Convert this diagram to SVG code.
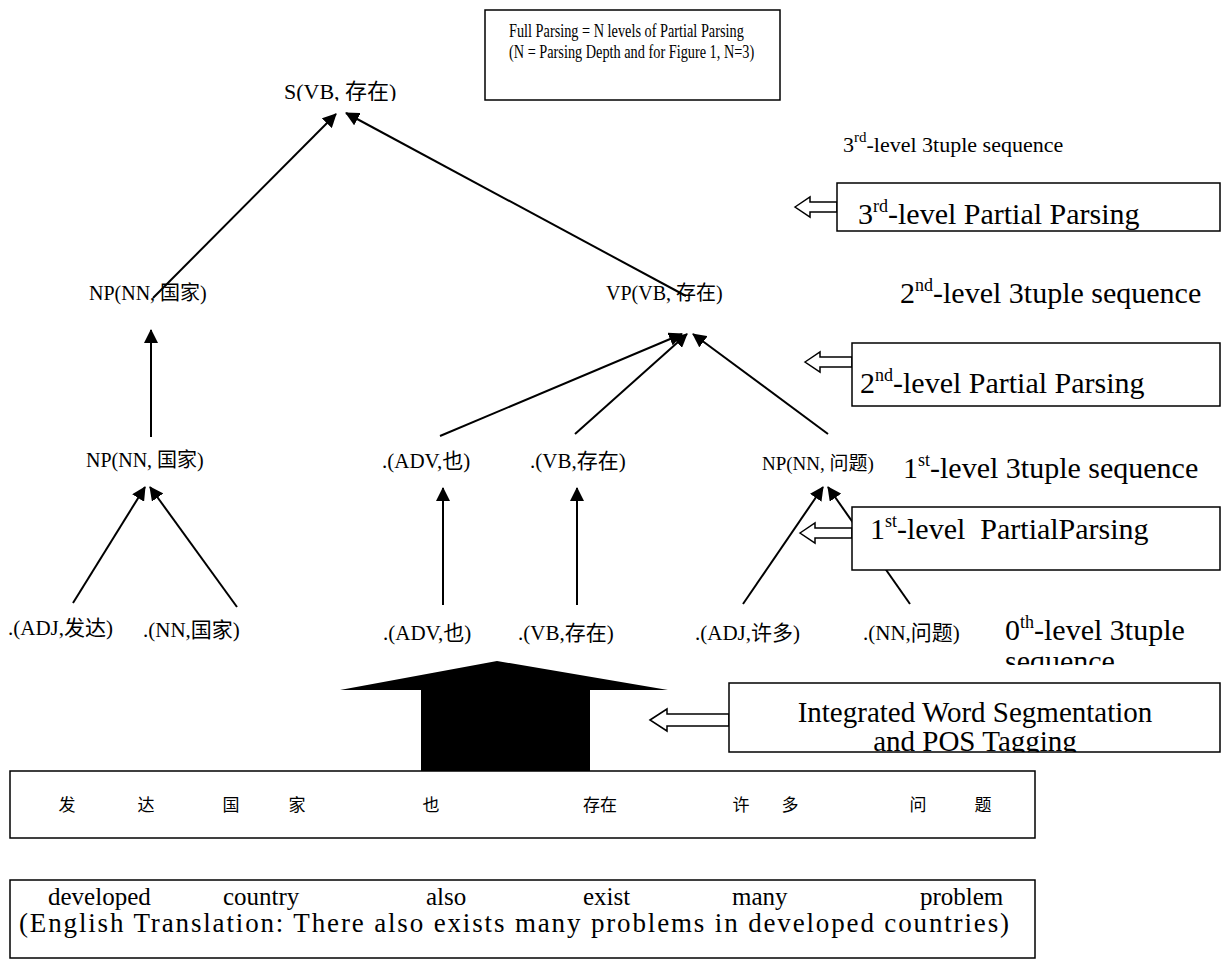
<svg xmlns="http://www.w3.org/2000/svg" width="1222" height="972" viewBox="0 0 1222 972">
<style>
.t{font-family:"Liberation Serif","Noto Sans CJK SC",serif;fill:#000}
.lbl{font-size:20px}
.l21{font-size:21px}
.big{font-size:30px}
.box{fill:#fff;stroke:#000;stroke-width:1.5}
.conn{stroke:#000;stroke-width:2;fill:none;marker-end:url(#ah)}
.hol{fill:#fff;stroke:#000;stroke-width:1.5}
.sup{font-size:18px}
</style>
<defs>
<marker id="ah" markerUnits="userSpaceOnUse" markerWidth="14" markerHeight="14" viewBox="0 0 14 14" refX="13" refY="7" orient="auto">
<path d="M0,0 L14,7 L0,14 z" fill="#000"/>
</marker>
<clipPath id="cs"><rect x="270" y="60" width="150" height="41"/></clipPath>
<clipPath id="c3"><rect x="837" y="183" width="383" height="48"/></clipPath>
<clipPath id="ciw"><rect x="729" y="683" width="491" height="69"/></clipPath>
<clipPath id="c0b"><rect x="990" y="600" width="232" height="65"/></clipPath>
</defs>

<g id="connectors">
<line class="conn" x1="153" y1="298" x2="336" y2="114"/>
<line class="conn" x1="686" y1="296" x2="346" y2="113"/>
<line class="conn" x1="151" y1="437" x2="151" y2="330"/>
<line class="conn" x1="440" y1="436" x2="682" y2="334"/>
<line class="conn" x1="575" y1="434" x2="687" y2="334"/>
<line class="conn" x1="828" y1="434" x2="693" y2="334"/>
<line class="conn" x1="73" y1="603" x2="145" y2="487"/>
<line class="conn" x1="237" y1="607" x2="150" y2="487"/>
<line class="conn" x1="443" y1="605" x2="443" y2="488"/>
<line class="conn" x1="577" y1="605" x2="577" y2="488"/>
<line class="conn" x1="743" y1="604" x2="823" y2="487"/>
<line class="conn" x1="910" y1="604" x2="828" y2="487"/>
<polygon class="hol" points="795,207 810,197 810,202 837,202 837,212 810,212 810,217"/>
<polygon class="hol" points="805,362 820,352 820,357 852,357 852,367 820,367 820,372"/>
<polygon class="hol" points="800,533 815,523 815,528 852,528 852,538 815,538 815,543"/>
<polygon class="hol" points="650,720 667,709 667,714 729,714 729,726 667,726 667,731"/>
<polygon id="bigarrow" points="497,661 668,690 590,690 590,771 421,771 421,690 340,690" fill="#000"/>
</g>

<g id="note">
<rect class="box" x="485" y="10" width="295" height="90"/>
<text class="t" style="font-size:14.3px" transform="translate(509,37) scale(1,1.3)">Full Parsing = N levels of Partial Parsing</text>
<text class="t" style="font-size:14.3px" transform="translate(509,58) scale(1,1.3)">(N = Parsing Depth and for Figure 1, N=3)</text>
</g>

<g id="s" clip-path="url(#cs)"><text class="t" style="font-size:22px" x="284" y="99">S(VB, 存在)</text></g>
<g id="np2"><text class="t lbl" x="89" y="300">NP(NN, 国家)</text></g>
<g id="vp2"><text class="t lbl" x="606" y="300">VP(VB, 存在)</text></g>
<g id="np1"><text class="t lbl" x="86" y="467">NP(NN, 国家)</text></g>
<g id="adv1"><text class="t l21" x="382" y="468">.(ADV,也)</text></g>
<g id="vb1"><text class="t l21" x="530" y="468">.(VB,存在)</text></g>
<g id="np1b"><text class="t" style="font-size:19px" x="762" y="470">NP(NN, 问题)</text></g>

<g id="w0a"><text class="t l21" x="8" y="635">.(ADJ,发达)</text></g>
<g id="w0b"><text class="t l21" x="143" y="637">.(NN,国家)</text></g>
<g id="w0c"><text class="t l21" x="383" y="640">.(ADV,也)</text></g>
<g id="w0d"><text class="t l21" x="518" y="640">.(VB,存在)</text></g>
<g id="w0e"><text class="t l21" x="695" y="640">.(ADJ,许多)</text></g>
<g id="w0f"><text class="t l21" x="863" y="640">.(NN,问题)</text></g>

<g id="seq3"><text class="t" style="font-size:22px" x="843" y="152">3<tspan dy="-10" style="font-size:15px">rd</tspan><tspan dy="10">-level 3tuple sequence</tspan></text></g>
<g id="seq2"><text class="t big" x="900" y="303">2<tspan class="sup" dy="-12">nd</tspan><tspan dy="12">-level 3tuple sequence</tspan></text></g>
<g id="seq1"><text class="t big" x="903" y="478">1<tspan class="sup" dy="-12">st</tspan><tspan dy="12">-level 3tuple sequence</tspan></text></g>
<g id="seq0"><text class="t big" x="1005" y="640">0<tspan class="sup" dy="-12">th</tspan><tspan dy="12">-level 3tuple</tspan></text>
<text class="t big" x="1005" y="671" clip-path="url(#c0b)">sequence</text></g>

<g id="pp3">
<rect class="box" x="837" y="183" width="383" height="48"/>
<text class="t big" x="858" y="224" clip-path="url(#c3)">3<tspan class="sup" dy="-12">rd</tspan><tspan dy="12">-level Partial Parsing</tspan></text>
</g>
<g id="pp2">
<rect class="box" x="852" y="343" width="368" height="63"/>
<text class="t big" x="860" y="393">2<tspan class="sup" dy="-12">nd</tspan><tspan dy="12">-level Partial Parsing</tspan></text>
</g>
<g id="pp1">
<rect class="box" x="852" y="507" width="368" height="63"/>
<text class="t big" x="870" y="539" xml:space="preserve">1<tspan class="sup" dy="-12">st</tspan><tspan dy="12">-level  PartialParsing</tspan></text>
</g>
<g id="iwst">
<rect class="box" x="729" y="683" width="491" height="69"/>
<g clip-path="url(#ciw)">
<text class="t" style="font-size:29px" x="975" y="722" text-anchor="middle">Integrated Word Segmentation</text>
<text class="t" style="font-size:29px" x="975" y="751" text-anchor="middle">and POS Tagging</text>
</g>
</g>

<g id="chinese">
<rect class="box" x="10" y="771" width="1025" height="67"/>
<g class="t" style="font-size:17px" text-anchor="middle">
<text x="67" y="811">发</text><text x="146" y="811">达</text>
<text x="231" y="811">国</text><text x="297" y="811">家</text>
<text x="431" y="811">也</text>
<text x="600" y="811">存在</text>
<text x="741" y="811">许</text><text x="790" y="811">多</text>
<text x="918" y="811">问</text><text x="983" y="811">题</text>
</g>
</g>

<g id="english">
<rect class="box" x="10" y="880" width="1025" height="78"/>
<g class="t" style="font-size:25px">
<text x="48" y="905">developed</text>
<text x="223" y="905">country</text>
<text x="426" y="905">also</text>
<text x="583" y="905">exist</text>
<text x="732" y="905">many</text>
<text x="920" y="905">problem</text>
<text x="19" y="932" style="font-size:27px" textLength="990" lengthAdjust="spacing">(English Translation: There also exists many problems in developed countries)</text>
</g>
</g>
</svg>
